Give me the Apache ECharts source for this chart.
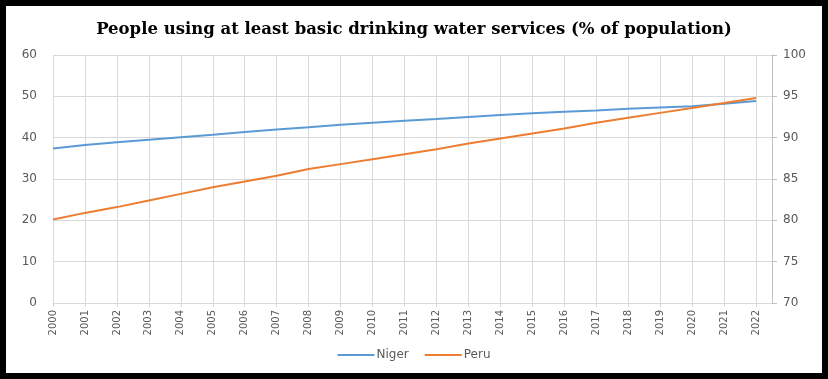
<!DOCTYPE html>
<html>
<head>
<meta charset="utf-8">
<script src="https://cdn.jsdelivr.net/npm/echarts@6/dist/echarts.min.js"></script>
<style>
  html, body { margin: 0; padding: 0; background: #fff; }
  #main { width: 828px; height: 379px; }
</style>
</head>
<body>
<div id="main"></div>
<script>
var years = [2000, 2001, 2002, 2003, 2004, 2005, 2006, 2007, 2008, 2009, 2010, 2011,
             2012, 2013, 2014, 2015, 2016, 2017, 2018, 2019, 2020, 2021, 2022];
// Niger, left axis
var niger = [37.4, 38.2, 38.9, 39.5, 40.1, 40.7, 41.4, 42.0, 42.5, 43.1, 43.6, 44.1,
             44.5, 45.0, 45.5, 45.9, 46.3, 46.6, 47.0, 47.3, 47.6, 48.2, 48.9];
// Peru, right axis
var peru = [80.1, 80.9, 81.6, 82.4, 83.2, 84.0, 84.7, 85.4, 86.2, 86.8, 87.4, 88.0,
            88.6, 89.3, 89.9, 90.5, 91.1, 91.8, 92.4, 93.0, 93.6, 94.2, 94.8];

var myChart = echarts.init(document.getElementById('main'));

function pairs(vals) {
    return vals.map(function (v, i) { return [years[i], v]; });
}

var labelColor = '#595959';
var gridColor = '#d9d9d9';

var option = {
    animation: false,
    backgroundColor: '#fff',
    title: {
        text: 'People using at least basic drinking water services (% of population)',
        left: 'center',
        top: 16,
        textStyle: {
            fontFamily: 'DejaVu Serif',
            fontWeight: 'bold',
            fontSize: 16.5,
            color: '#000'
        }
    },
    legend: {
        bottom: 13,
        left: 'center',
        itemWidth: 37,
        itemHeight: 2,
        itemGap: 16,
        icon: 'rect',
        textStyle: { fontFamily: 'DejaVu Sans', fontSize: 12, color: labelColor, padding: [0, 0, 0, -3] },
        data: ['Niger', 'Peru']
    },
    grid: {
        left: 53,
        right: 56,
        top: 55,
        bottom: 76
    },
    xAxis: {
        type: 'value',
        min: 2000,
        max: 2022.5,
        interval: 1,
        axisLine: { lineStyle: { color: gridColor } },
        axisTick: { show: true, length: 4, lineStyle: { color: gridColor } },
        splitLine: { show: true, lineStyle: { color: gridColor } },
        axisLabel: {
            rotate: 90,
            margin: 7,
            fontFamily: 'DejaVu Sans',
            fontSize: 10,
            color: labelColor,
            showMaxLabel: false,
            formatter: function (v) { return v % 1 === 0 ? String(v) : ''; }
        }
    },
    yAxis: [{
        type: 'value',
        min: 0,
        max: 60,
        interval: 10,
        axisLine: { show: true, lineStyle: { color: gridColor } },
        axisTick: { show: false },
        splitLine: { lineStyle: { color: gridColor } },
        axisLabel: { margin: 16, fontFamily: 'DejaVu Sans', fontSize: 12, color: labelColor }
    }, {
        type: 'value',
        min: 70,
        max: 100,
        interval: 5,
        position: 'right',
        axisLine: { show: true, lineStyle: { color: '#bfbfbf' } },
        axisTick: { show: true, length: 5, lineStyle: { color: '#bfbfbf' } },
        splitLine: { show: false },
        axisLabel: { margin: 11, fontFamily: 'DejaVu Sans', fontSize: 12, color: labelColor }
    }],
    series: [{
        name: 'Niger',
        type: 'line',
        yAxisIndex: 0,
        showSymbol: false,
        lineStyle: { width: 2, color: '#5b9bd5' },
        itemStyle: { color: '#5b9bd5' },
        data: pairs(niger)
    }, {
        name: 'Peru',
        type: 'line',
        yAxisIndex: 1,
        showSymbol: false,
        lineStyle: { width: 2, color: '#ed7d31' },
        itemStyle: { color: '#ed7d31' },
        data: pairs(peru)
    }],
    graphic: [{
        type: 'rect',
        silent: true,
        shape: { x: 3, y: 3, width: 822, height: 373 },
        style: { fill: 'none', stroke: '#000', lineWidth: 6 }
    }]
};

myChart.setOption(option);
</script>
</body>
</html>
